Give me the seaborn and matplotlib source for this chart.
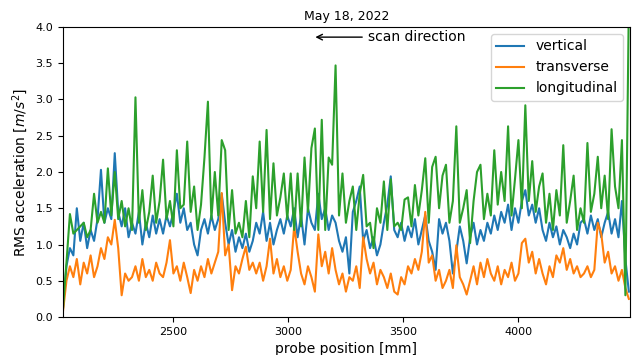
import numpy as np
import pandas as pd
import matplotlib
matplotlib.use("Agg")
import matplotlib.pyplot as plt
import seaborn as sns

# probe positions: first sample and spacing [mm]
pos_start = 2020
pos_step = 15

vertical = [
    0.12, 0.7, 0.95, 0.85, 1.5, 1.05, 1.3, 0.95, 1.2, 1.05,
    1.35, 2.03, 1.3, 1.5, 1.35, 2.26, 1.45, 1.25, 1.5, 1.1,
    1.3, 1.15, 1.45, 1.0, 1.3, 1.1, 1.4, 1.15, 1.35, 1.15,
    1.4, 1.25, 1.45, 1.7, 1.3, 1.5, 1.2, 1.3, 1.0, 0.85,
    1.2, 1.35, 1.15, 1.4, 1.2, 1.35, 1.7, 1.3, 1.0, 1.2,
    0.9, 1.1, 0.95, 1.15, 0.9, 1.05, 1.3, 1.15, 1.45, 1.05,
    1.3, 1.0, 1.2, 1.35, 1.15, 1.4, 1.25, 1.5, 1.1, 1.4,
    1.0, 1.5, 1.3, 1.2, 1.7, 1.35, 1.5, 1.2, 1.4, 1.3,
    1.05, 0.9, 1.1, 0.6, 1.45, 1.6, 1.8, 1.05, 1.2, 0.95,
    1.1, 0.85, 1.0, 1.3, 1.55, 1.94, 1.2, 1.1, 1.3, 1.05,
    1.25, 1.1, 1.35, 1.0, 1.2, 1.4, 1.05, 0.9, 0.65, 1.35,
    1.15, 1.3, 1.05, 0.6, 0.9, 1.25, 1.05, 0.74, 1.1, 1.3,
    1.0, 1.2, 1.05, 1.3, 1.15, 1.4, 1.2, 1.45, 1.3, 1.55,
    1.2, 1.5, 1.3, 1.6, 1.75, 1.4, 1.55, 1.3, 1.5, 1.2,
    1.05, 1.3, 1.1, 1.25, 1.0, 1.2, 1.1, 0.95, 1.15, 1.0,
    1.3, 1.35, 1.15, 1.4, 1.2, 1.35, 1.1, 1.3, 1.45, 1.15,
    1.35, 1.1, 1.6, 0.8, 0.35]

transverse = [
    0.08, 0.5, 0.7, 0.55, 0.8, 0.45, 0.75, 0.6, 0.85, 0.55,
    0.7, 0.95, 0.8, 1.1, 1.0, 1.34, 0.95, 0.3, 0.6, 0.5,
    0.55, 0.7, 0.5, 0.8, 0.55, 0.65, 0.5, 0.75, 0.6, 0.55,
    0.75, 1.06, 0.6, 0.7, 0.5, 0.75, 0.55, 0.33, 0.65, 0.5,
    0.7, 0.55, 0.8, 0.6, 0.75, 0.9, 1.71, 0.85, 1.0, 0.37,
    0.7, 0.6, 0.8, 0.97, 0.65, 0.75, 0.6, 0.75, 0.5, 0.7,
    1.08, 0.6, 0.8, 0.55, 0.7, 0.5, 0.65, 1.25, 0.9, 0.6,
    0.45, 0.7, 0.55, 0.35, 1.14, 0.7, 0.9, 0.6, 0.95, 0.65,
    0.45, 0.6, 0.35, 0.55, 0.5, 0.7, 0.4, 1.1, 0.8, 0.6,
    0.75, 0.45, 0.65, 0.55, 0.4, 0.6, 0.35, 0.31, 0.55, 0.45,
    0.7, 0.6, 0.8, 0.65, 0.9, 1.45, 0.75, 0.85, 0.5, 0.65,
    0.4, 0.5, 0.65, 0.4, 0.99, 0.55, 0.45, 0.31, 0.5, 0.7,
    0.45, 0.75, 0.55, 0.8, 0.6, 0.5, 0.7, 0.45, 0.65, 0.55,
    0.75, 0.5, 0.6, 1.02, 1.08, 0.75, 0.9, 0.6, 0.8, 0.6,
    0.45, 0.7, 0.55, 0.85, 0.75, 0.95, 0.65, 0.8, 0.6, 0.7,
    0.55, 0.6, 0.7, 0.55, 0.65, 1.3, 1.15, 0.75, 0.9, 0.6,
    0.7, 0.5, 0.65, 0.4, 0.25]

longitudinal = [
    0.12, 0.75, 1.42, 1.15, 1.2, 1.25, 1.3, 1.1, 1.2, 1.7,
    1.3, 1.45, 1.3, 2.05, 1.4, 2.0, 1.35, 1.6, 1.25, 1.5,
    1.2, 3.03, 1.3, 1.75, 1.2, 1.45, 1.95, 1.3, 1.6, 2.17,
    1.35, 1.6, 1.25, 2.3, 1.5, 1.55, 2.42, 1.45, 1.8, 1.2,
    1.55, 2.2, 2.97, 1.35, 2.0, 1.4, 2.44, 2.3, 1.2, 1.75,
    1.15, 1.3, 1.1, 1.6, 1.1, 1.94, 1.5, 2.42, 1.45, 2.58,
    1.35, 2.12, 1.4, 1.65, 1.98, 1.35, 1.98, 1.2, 1.98, 1.25,
    2.2, 1.45, 2.33, 2.6, 1.2, 2.72, 1.2, 2.2, 2.1, 3.47,
    1.4, 1.98, 1.3, 1.6, 1.8, 1.2, 1.7, 1.96, 1.25, 1.3,
    0.95, 1.5, 1.3, 1.87, 1.2, 1.9, 1.25, 1.3, 1.2, 1.62,
    1.65, 1.25, 1.82, 1.4, 1.75, 2.19, 1.3, 2.07, 2.21, 1.5,
    1.95, 2.1, 1.3, 1.6, 2.63, 1.3, 1.5, 1.75, 1.02, 1.6,
    2.0, 2.1, 1.35, 1.7, 1.4, 2.3, 1.55, 2.0, 1.6, 2.63,
    1.4, 1.9, 2.44, 1.5, 2.92, 1.6, 2.15, 1.45, 1.8, 1.98,
    1.3, 1.7, 1.2, 1.75, 1.4, 2.37, 1.3, 1.6, 1.95, 1.2,
    1.5, 1.3, 2.4, 1.45, 1.7, 2.21, 1.5, 1.95, 1.35, 2.59,
    1.8, 1.5, 2.44, 0.3, 4.3]

position = pos_start + pos_step * np.arange(len(vertical))

df = pd.DataFrame({"position": position,
                   "vertical": vertical,
                   "transverse": transverse,
                   "longitudinal": longitudinal})
long_df = df.melt(id_vars="position", var_name="axis", value_name="rms")

fig, ax = plt.subplots(figsize=(6.32, 3.55), dpi=100)
fig.subplots_adjust(left=0.0997, right=0.9968, bottom=0.107, top=0.924)

sns.lineplot(data=long_df, x="position", y="rms", hue="axis",
             hue_order=["vertical", "transverse", "longitudinal"],
             palette=["tab:blue", "tab:orange", "tab:green"],
             estimator=None, linewidth=1.5, ax=ax)

ax.set_xlim(2020, 4485)
ax.set_ylim(0, 4.0)
ax.set_xticks([2500, 3000, 3500, 4000])
ax.tick_params(labelsize=8)
ax.set_xlabel("probe position [mm]", fontsize=10)
ax.set_ylabel("RMS acceleration [$m/s^2$]", fontsize=10)
ax.set_title("May 18, 2022", fontsize=9, pad=5)

ax.annotate("scan direction", xy=(3105, 3.86), xytext=(3345, 3.86),
            fontsize=10, va="center",
            arrowprops=dict(arrowstyle="->", color="black", lw=1))

ax.legend(loc="upper right", fontsize=10, title=None)

fig.savefig("out.png", dpi=100)
